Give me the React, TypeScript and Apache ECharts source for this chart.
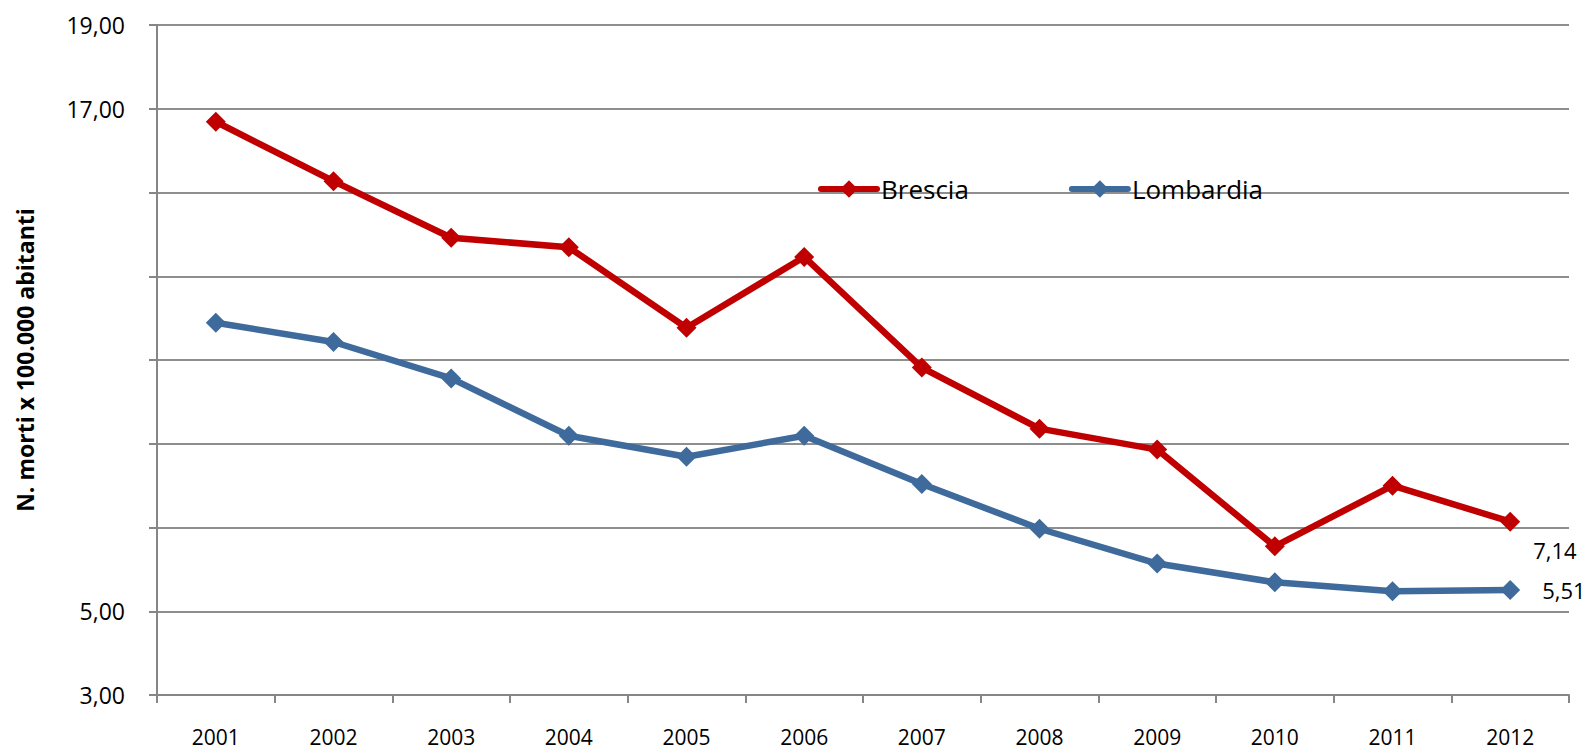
import React, { useEffect, useRef } from "react";
import * as echarts from "echarts";

const years = ["2001", "2002", "2003", "2004", "2005", "2006", "2007", "2008", "2009", "2010", "2011", "2012"];
const brescia = [16.69, 15.27, 13.92, 13.69, 11.77, 13.46, 10.82, 9.36, 8.86, 6.55, 8.0, 7.14];
const lombardia = [11.89, 11.43, 10.56, 9.19, 8.69, 9.19, 8.04, 6.97, 6.14, 5.69, 5.48, 5.51];
const shownYLabels = [3, 5, 17, 19];
const seriesNames = ["Brescia", "Lombardia"];

const RED = "#C00000";
const BLUE = "#3E6A9C";
const FONT = "'Open Sans', sans-serif";
const fmt = (v: number) => v.toFixed(2).replace(".", ",");

export default function App() {
  const ref = useRef<HTMLDivElement>(null);
  useEffect(() => {
    if (!ref.current) return;
    const chart = echarts.init(ref.current, undefined, { renderer: "svg" });
    const last = years.length - 1;
    const mk = (vals: number[], labelOpt: any) =>
      vals.map((v, i) => (i === last ? { value: v, label: labelOpt } : v));
    chart.setOption({
      animation: false,
      textStyle: { fontFamily: FONT },
      grid: { left: 157, right: 22, top: 25, bottom: 57, containLabel: false },
      legend: {
        data: seriesNames,
        left: 813,
        top: 171,
        itemWidth: 56,
        itemHeight: 22,
        itemGap: 100,
        lineStyle: { width: 6, cap: "round" },
        textStyle: { fontSize: 26, color: "#000", fontFamily: FONT, padding: [0, 0, 0, -1] },
      },
      xAxis: {
        type: "category",
        data: years,
        boundaryGap: true,
        axisLine: { lineStyle: { color: "#868686", width: 2 } },
        axisTick: { show: true, length: 8, interval: 0, lineStyle: { color: "#868686", width: 2 } },
        axisLabel: { fontSize: 21, color: "#000", margin: 31, fontFamily: FONT, interval: 0 },
        splitLine: { show: false },
      },
      yAxis: {
        type: "value",
        min: 3,
        max: 19,
        interval: 2,
        name: "N. morti x 100.000 abitanti",
        nameLocation: "middle",
        nameGap: 121,
        nameTextStyle: { fontSize: 23, fontWeight: "bold", color: "#000", fontFamily: FONT },
        axisLine: { show: true, lineStyle: { color: "#868686", width: 2 } },
        axisTick: { show: true, length: 8, lineStyle: { color: "#868686", width: 2 } },
        axisLabel: {
          fontSize: 23,
          color: "#000",
          margin: 32,
          fontFamily: FONT,
          formatter: (v: number) => (shownYLabels.includes(v) ? fmt(v) : ""),
        },
        splitLine: { show: true, lineStyle: { color: "#8E8E8E", width: 2 } },
      },
      series: [
        {
          name: seriesNames[0],
          type: "line",
          data: mk(brescia, {
            show: true,
            position: "right",
            distance: 13,
            offset: [0, 28],
            fontSize: 22,
            color: "#000",
            fontFamily: FONT,
            formatter: (p: any) => fmt(p.value),
          }),
          symbol: "diamond",
          symbolSize: 20,
          lineStyle: { color: RED, width: 6.5 },
          itemStyle: { color: RED },
          z: 3,
        },
        {
          name: seriesNames[1],
          type: "line",
          data: mk(lombardia, {
            show: true,
            position: "right",
            distance: 22,
            fontSize: 22,
            color: "#000",
            fontFamily: FONT,
            formatter: (p: any) => fmt(p.value),
          }),
          symbol: "diamond",
          symbolSize: 20,
          lineStyle: { color: BLUE, width: 6.5 },
          itemStyle: { color: BLUE },
          z: 3,
        },
      ],
    });
    return () => chart.dispose();
  }, []);
  return (
    <div
      ref={ref}
      style={{ position: "fixed", left: 0, top: 0, width: 1591, height: 752, background: "#fff" }}
    />
  );
}
